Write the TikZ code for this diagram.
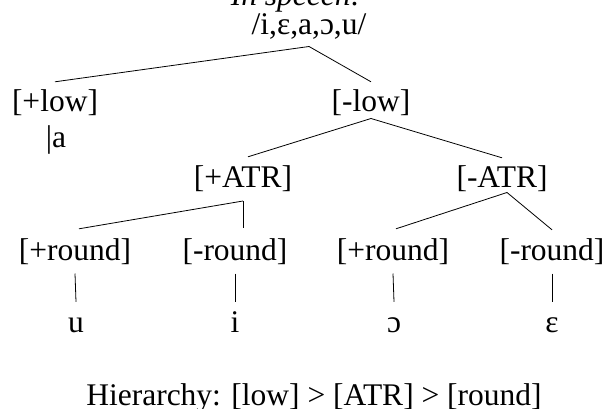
\documentclass[tikz,border=0pt]{standalone}
\usepackage{fontspec}
\setmainfont{Liberation Serif}
\begin{document}
\begin{tikzpicture}[x=1pt,y=-1pt,
  every node/.style={font=\fontsize{31.5}{36}\selectfont, inner sep=0pt},
  feat/.style={anchor=base, text height=22pt, text depth=6.3pt},
  leaf/.style={anchor=base, text height=14.5pt, text depth=0pt},
  edge/.style={line width=0.8pt, black}]
\useasboundingbox (0,0) rectangle (605,409);
% title (mostly above the page)
\node[anchor=base, font=\fontsize{31.5}{36}\selectfont\itshape] (title) at (296,6) {In speech:};
\node[feat] (top) at (309,35) {/i,ɛ,a,ɔ,u/};
\node[feat] (plow) at (55,112) {[+low]};
\node[feat] (mlow) at (371,112) {[-low]};
\node[anchor=base] (a) at (56,147) {|a};
\node[feat] (patr) at (243,187) {[+ATR]};
\node[feat] (matr) at (502,187) {[-ATR]};
\node[feat] (r1) at (75,260) {[+round]};
\node[feat] (r2) at (235,260) {[-round]};
\node[feat] (r3) at (393,260) {[+round]};
\node[feat] (r4) at (552,260) {[-round]};
\node[leaf] (u) at (76,332) {u};
\node[leaf] (i) at (235,332) {i};
\node[leaf] (o) at (394,332) {ɔ};
\node[leaf] (e) at (552,332) {ɛ};
\node[anchor=base] (hier) at (314,405) {Hierarchy: [low] > [ATR] > [round]};
% connectors
\coordinate (t0) at ([yshift=-5pt]top.south);
\draw[edge] (t0) -- ([yshift=8pt]plow.north);
\draw[edge] (t0) -- ([yshift=8pt]mlow.north);
\draw[edge] (mlow.south) -- ([xshift=5pt,yshift=8pt]patr.north);
\draw[edge] (mlow.south) -- ([yshift=7pt]matr.north);
\coordinate (pa) at ([yshift=-7.5pt]patr.south);
\draw[edge] (pa) -- ([xshift=4pt,yshift=9pt]r1.north);
\draw[edge] (pa) -- ([yshift=10pt]pa |- r2.north);
\coordinate (ma) at ([xshift=5pt,yshift=1pt]matr.south);
\draw[edge] (ma) -- ([xshift=3pt,yshift=9pt]r3.north);
\draw[edge] (ma) -- ([yshift=8pt]r4.north);
\draw[edge] ([yshift=-7pt]r1.south) -- ([yshift=15.5pt]u.north);
\draw[edge] ([yshift=-7pt]r2.south) -- ([yshift=15.5pt]i.north);
\draw[edge] ([yshift=-7pt]r3.south) -- ([yshift=15.5pt]o.north);
\draw[edge] ([yshift=-7pt]r4.south) -- ([yshift=15.5pt]e.north);
\end{tikzpicture}
\end{document}
